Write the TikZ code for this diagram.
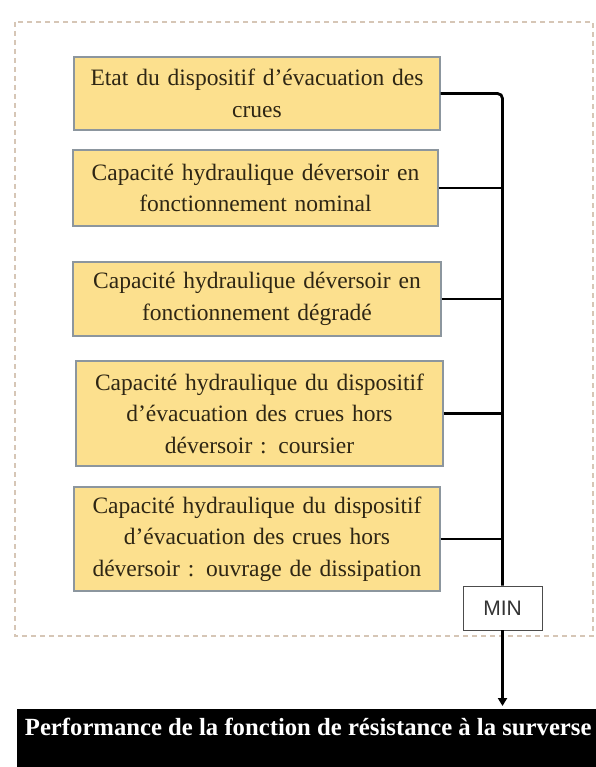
\documentclass[tikz,border=0pt]{standalone}
\usepackage{fontspec}
\setmainfont{Liberation Serif}
\newfontfamily\minfont{Liberation Sans}
\usetikzlibrary{arrows.meta}
\definecolor{boxfill}{HTML}{FCE08E}
\definecolor{boxedge}{HTML}{8C969E}
\definecolor{boxtext}{HTML}{2E2614}
\definecolor{frameedge}{HTML}{D6C6B6}
\begin{document}
\begin{tikzpicture}[x=1pt,y=-1pt,
  critbox/.style={draw=boxedge,line width=1.2pt,fill=boxfill,text=boxtext,
    align=center,inner sep=0pt,text width=#1,
    font=\fontsize{23.5}{31.5}\selectfont},
  critbox/.default=350pt,
  bus/.style={line width=2.8pt,black},
  minbox/.style={draw=black!70,line width=0.9pt,fill=white,text=black!80,
    minimum width=79pt,minimum height=44pt,inner sep=0pt,
    font=\minfont\fontsize{21}{21}\selectfont},
  resultbox/.style={fill=black,text=white,anchor=north west,inner xsep=0pt,
    inner ysep=0pt,text height=26pt,text depth=34pt,minimum width=582pt,
    font=\bfseries\fontsize{24.7}{28}\selectfont}]
\useasboundingbox (0,0) rectangle (595,767);
\fill[white] (0,0) rectangle (595,767);

% dashed frame around the criteria
\draw[frameedge,line width=1.1pt,dash pattern=on 5pt off 4pt] (15,22) rectangle (593,636);

% criteria
\node[critbox,minimum width=366pt,minimum height=73pt] (b1) at (257,93.5)
  {Etat du dispositif d'évacuation des\\ crues};
\node[critbox,minimum width=365pt,minimum height=76pt] (b2) at (255.5,188)
  {Capacité hydraulique déversoir en\\ fonctionnement nominal};
\node[critbox,minimum width=368pt,minimum height=74pt] (b3) at (257,299)
  {Capacité hydraulique déversoir en\\ fonctionnement dégradé};
\node[critbox,minimum width=367pt,minimum height=105pt] (b4) at (259.5,413.5)
  {Capacité hydraulique du dispositif\\ d'évacuation des crues hors\\ déversoir : coursier};
\node[critbox,minimum width=366pt,minimum height=104pt] (b5) at (257,539)
  {Capacité hydraulique du dispositif\\ d'évacuation des crues hors\\ déversoir : ouvrage de dissipation};

% aggregation
\node[minbox] (min) at (502.5,608) {MIN};
\node[resultbox] (out) at (17,709) {Performance de la fonction de résistance à la surverse};

% connectors
\draw[bus,rounded corners=5pt] (b1.east) -| (min.north);
\draw[bus] (b2.east) -- (b2.east -| min.north);
\draw[bus] (b3.east) -- (b3.east -| min.north);
\draw[bus] (b4.east) -- (b4.east -| min.north);
\draw[bus] (b5.east) -- (b5.east -| min.north);
\draw[line width=2.2pt,-{Triangle[length=8pt,width=9pt]},shorten >=3pt]
  (min.south) -- (min.south |- out.north);
\end{tikzpicture}
\end{document}
